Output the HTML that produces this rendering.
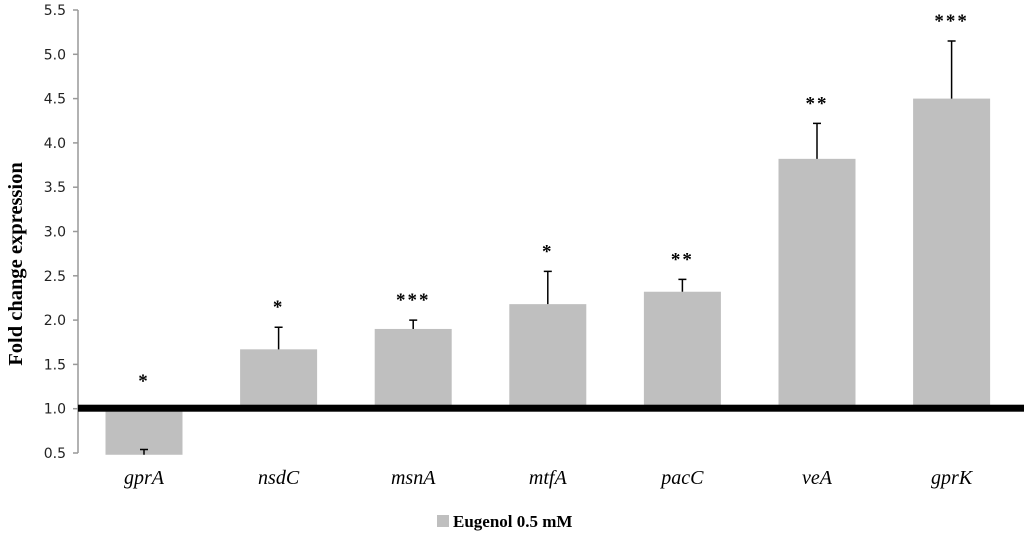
<!DOCTYPE html>
<html><head><meta charset="utf-8"><style>
html,body{margin:0;padding:0;background:#fff;}
svg{display:block;}
</style></head><body>
<svg width="1024" height="539" viewBox="0 0 1024 539">
<g id="ticks"></g>
<g id="bars"></g>
<text x="22" y="264" transform="rotate(-90 22 264)" text-anchor="middle" font-family="Liberation Serif, serif" font-weight="bold" font-size="20.5">Fold change expression</text>
<rect x="437" y="515" width="12" height="12" fill="#bfbfbf"/>
<text x="453" y="527" font-family="Liberation Serif, serif" font-weight="bold" font-size="17">Eugenol 0.5 mM</text>
</svg>
<script>
const categories=["gprA","nsdC","msnA","mtfA","pacC","veA","gprK"];
const values=[0.48,1.67,1.90,2.18,2.32,3.82,4.50];
const errors=[0.54,1.92,2.00,2.55,2.46,4.22,5.15];
const stars=["*","*","***","*","**","**","***"];
const yTicks=[0.5,1.0,1.5,2.0,2.5,3.0,3.5,4.0,4.5,5.0,5.5];
const NS="http://www.w3.org/2000/svg";
const y=v=>453-(v-0.5)*88.6;
const xc=i=>144+i*134.6;
const bw=77;
function mk(t,a,p){const e=document.createElementNS(NS,t);for(const k in a)e.setAttribute(k,a[k]);p.appendChild(e);return e;}
const tg=document.getElementById('ticks'),bg=document.getElementById('bars');
const axis=mk('line',{x1:78,y1:y(5.5),x2:78,y2:y(0.5),stroke:'#999','stroke-width':1.5},tg);


yTicks.forEach(v=>{
 const l=mk('line',{x1:73,x2:78,y1:y(v),y2:y(v),stroke:'#999','stroke-width':1.5},tg);
 
 
 const t=mk('text',{x:66,y:y(v)+5,'text-anchor':'end','font-family':'DejaVu Sans, sans-serif','font-size':14,fill:'#222'},tg);
 t.textContent=v.toFixed(1);
 
 
});
categories.forEach((c,i)=>{
 const v=values[i],top=Math.min(y(v),y(1)),h=Math.abs(y(v)-y(1));
 const r=mk('rect',{x:xc(i)-bw/2,y:top,width:bw,height:h,fill:'#bfbfbf'},bg);
 
 
 const e=errors[i];
 const el=mk('path',{d:`M${xc(i)} ${y(v)} V${y(e)} M${xc(i)-4} ${y(e)} H${xc(i)+4}`,stroke:'#000','stroke-width':1.5,fill:'none'},bg);
 
 
 const sy=v<1?y(1.38)+12:y(e)-14;
 const s=mk('text',{x:xc(i),y:sy,'text-anchor':'middle','font-family':'Liberation Serif, serif','font-weight':'bold','font-size':19,'letter-spacing':2},bg);
 s.textContent=stars[i];
 
 
 const t=mk('text',{x:xc(i),y:484,'text-anchor':'middle','font-family':'Liberation Serif, serif','font-style':'italic','font-size':20},bg);
 t.textContent=c;
 
 
});
const base=mk('rect',{x:78,y:y(1)-4,width:946,height:7,fill:'#000'},bg);


</script>
</body></html>
